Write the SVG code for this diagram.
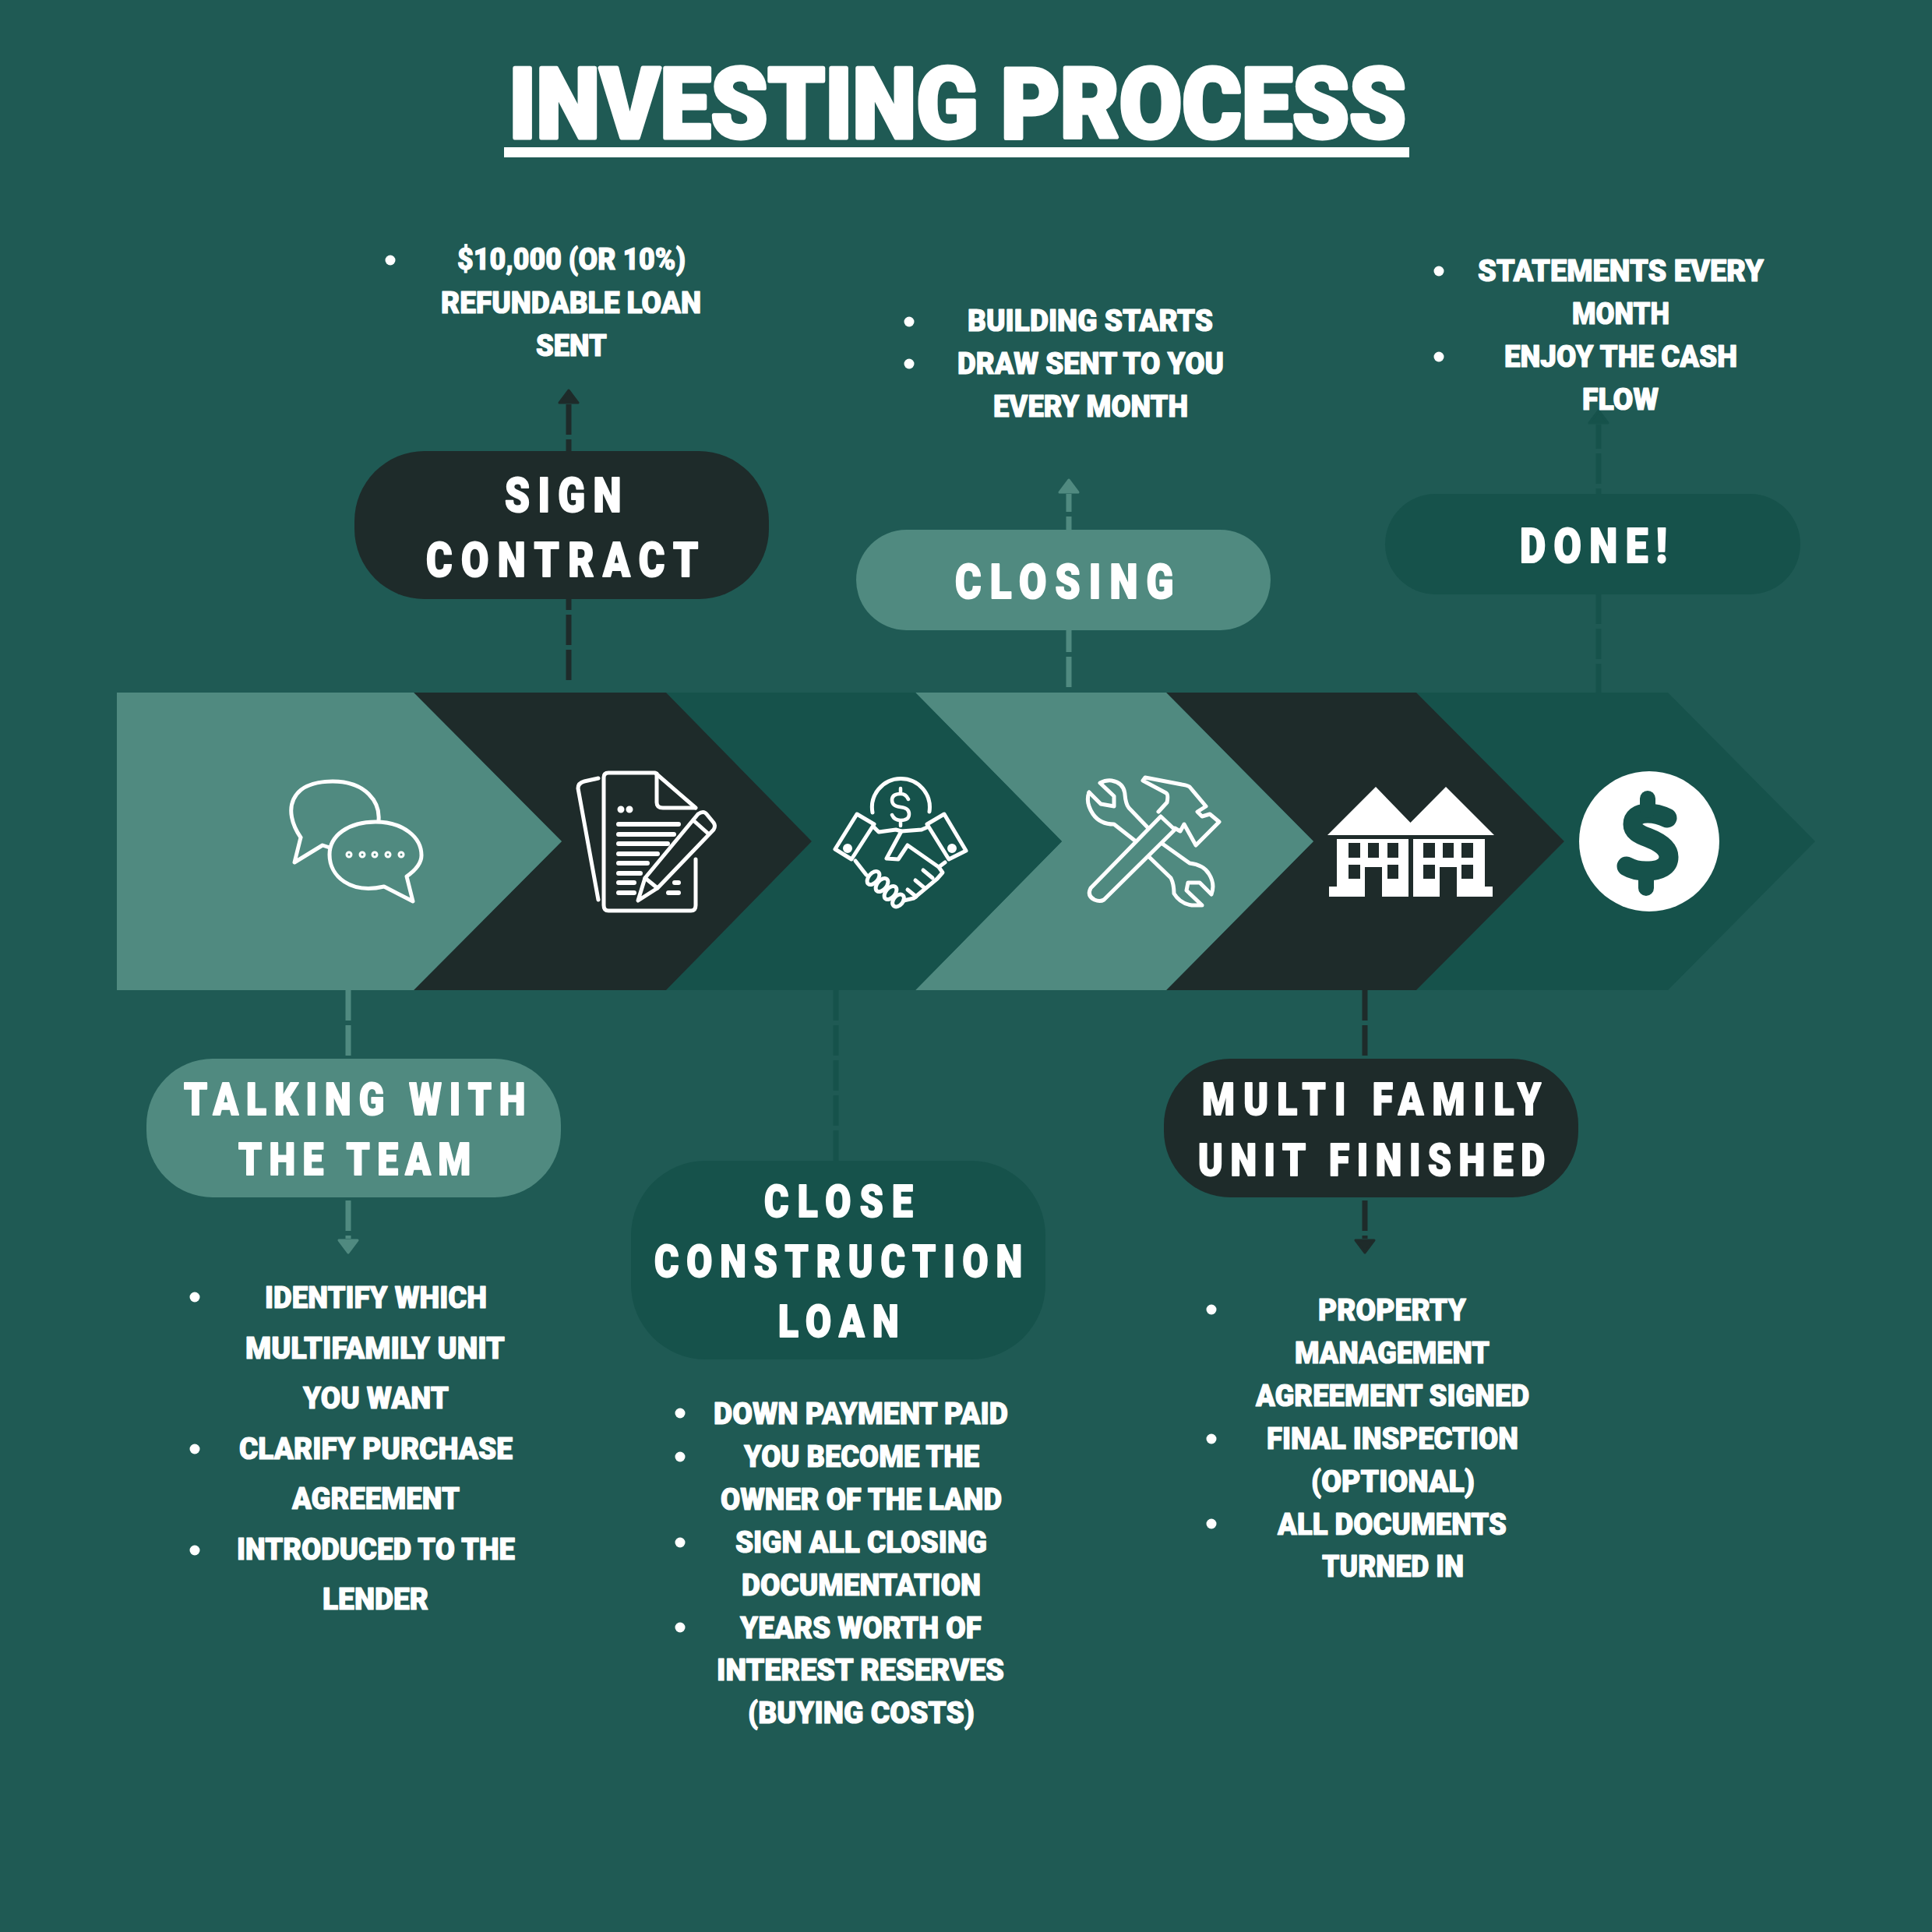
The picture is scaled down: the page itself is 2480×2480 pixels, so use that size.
<svg xmlns="http://www.w3.org/2000/svg" width="2480" height="2480" viewBox="0 0 2480 2480">
<style>
.bg{fill:#1f5a54}.l{fill:#508a80}.d{fill:#1e2b2a}.m{fill:#16524b}
text{font-family:Roboto,"Liberation Sans",sans-serif;font-weight:900;fill:#fff;stroke:#fff;stroke-linejoin:round}
.t{font-size:126px;stroke-width:5px}
.p{font-size:61px;stroke-width:2px}.q{font-size:57px;stroke-width:2px}
.b{font-size:39.500px;stroke-width:1.200px}
.bu{fill:#fff}
.c{fill:none;stroke-width:7;stroke-dasharray:39 6}
.cl{stroke:#508a80}.cd{stroke:#1e2b2a}.cm{stroke:#16524b}
.i{fill:none;stroke:#fff;stroke-width:5;stroke-linejoin:round;stroke-linecap:round}
.w{fill:#fff}
</style>
<defs>
<marker id="al" markerUnits="userSpaceOnUse" markerWidth="28" markerHeight="30" viewBox="0 0 28 30" refX="0" refY="15" orient="auto"><path d="M2 3L18 15L2 27Z" fill="#508a80" stroke="#508a80" stroke-width="3" stroke-linejoin="round"/></marker>
<marker id="ad" markerUnits="userSpaceOnUse" markerWidth="28" markerHeight="30" viewBox="0 0 28 30" refX="0" refY="15" orient="auto"><path d="M2 3L18 15L2 27Z" fill="#1e2b2a" stroke="#1e2b2a" stroke-width="3" stroke-linejoin="round"/></marker>
<marker id="am" markerUnits="userSpaceOnUse" markerWidth="28" markerHeight="30" viewBox="0 0 28 30" refX="0" refY="15" orient="auto"><path d="M2 3L18 15L2 27Z" fill="#16524b" stroke="#16524b" stroke-width="3" stroke-linejoin="round"/></marker>
</defs>
<rect class="bg" width="2480" height="2480"/>
<g id="title">
<text class="t" x="653" y="177" textLength="1152" lengthAdjust="spacingAndGlyphs">INVESTING PROCESS</text>
<rect class="w" x="647" y="189" width="1162" height="13"/>
</g>
<g id="connectors">
<path class="c cd" d="M730 873V519" marker-end="url(#ad)"/>
<path class="c cl" d="M1372 882V634" marker-end="url(#al)"/>
<path class="c cm" d="M2052 891V545" marker-end="url(#am)"/>
<path class="c cl" d="M447 1271V1590" marker-end="url(#al)"/>
<path class="c cm" d="M1073 1271V1490"/>
<path class="c cd" d="M1752 1271V1590" marker-end="url(#ad)"/>
</g>
<g id="band">
<path class="m" d="M1818 889H2141L2330 1080L2141 1271H1818L2008 1080Z"/>
<path class="d" d="M1497 889H1818L2008 1080L1818 1271H1497L1686 1080Z"/>
<path class="l" d="M1175 889H1497L1686 1080L1497 1271H1175L1363 1080Z"/>
<path class="m" d="M855 889H1175L1363 1080L1175 1271H855L1042 1080Z"/>
<path class="d" d="M531 889H855L1042 1080L855 1271H531L721 1080Z"/>
<path class="l" d="M150 889H531L721 1080L531 1271H150Z"/>
</g>
<g id="icon-chat" class="i">
<path d="M386 1075C362 1040 372 1003 427 1003C470 1003 488 1030 486 1053M386 1075L378 1107L414 1085L423 1088"/>
<path d="M493 1138C450 1148 423 1125 423 1097C423 1072 448 1055 482 1055C518 1055 541 1075 541 1098C541 1108 532 1118 522 1125L530 1157Z"/>
<circle cx="448" cy="1097" r="3" stroke-width="3"/><circle cx="465" cy="1097" r="3" stroke-width="3"/><circle cx="481" cy="1097" r="3" stroke-width="3"/><circle cx="498" cy="1097" r="3" stroke-width="3"/><circle cx="515" cy="1097" r="3" stroke-width="3"/>
</g>
<g id="icon-document" class="i">
<path d="M893 1103V1162Q893 1169 887 1169H781Q775 1169 775 1162V998Q775 992 781 992H841L893 1037"/>
<path d="M843 993V1030Q843 1037 851 1037H892"/>
<path d="M768 999L750 1003Q742 1005 742 1012L768 1155"/>
<path stroke-width="6" d="M794 1058H871M794 1071H865M794 1083H857M794 1096H844M794 1108H831M794 1121H822M794 1133H814M794 1146H814M858 1146H871M866 1133H871"/>
<circle class="w" cx="797" cy="1039" r="2"/><circle class="w" cx="808" cy="1039" r="2"/>
<path fill="#1e2b2a" d="M819 1156L828 1127L896 1045Q903 1040 907 1045L916 1056Q919 1060 916 1065L844 1140Z"/>
<path d="M828 1127L844 1140M890 1053L909 1070"/>
</g>
<g id="icon-handshake" class="i">
<path d="M1120 1043A37 37 0 1 1 1193 1042"/>
<path stroke-width="4.500" d="M1166 1026Q1163 1019 1156 1019Q1145 1019 1145 1027Q1145 1035 1156 1036Q1167 1037 1167 1045Q1167 1053 1156 1053Q1148 1053 1145 1046M1156 1012V1019M1156 1053V1060"/>
<path d="M1100 1045L1122 1058L1093 1103L1072 1090Z"/><circle class="w" cx="1088" cy="1089" r="3.500"/>
<path d="M1212 1045L1190 1058L1218 1103L1240 1092Z"/><circle class="w" cx="1222" cy="1089" r="3.500"/>
<path d="M1122 1062L1128 1068L1150 1065L1157 1067L1183 1065L1190 1062"/>
<path d="M1157 1067L1138 1102L1153 1103L1165 1085L1205 1113L1210 1120L1203 1128L1173 1153L1160 1156"/>
<path d="M1098 1105L1112 1123M1205 1113L1213 1107M1185 1117L1197 1127M1175 1130L1187 1140M1165 1142L1176 1151"/>
<ellipse cx="1121" cy="1127" rx="10" ry="6" transform="rotate(-50 1121 1127)"/>
<ellipse cx="1132" cy="1136" rx="10" ry="6" transform="rotate(-50 1132 1136)"/>
<ellipse cx="1143" cy="1146" rx="10" ry="6" transform="rotate(-50 1143 1146)"/>
<ellipse cx="1153" cy="1156" rx="9" ry="6" transform="rotate(-50 1153 1156)"/>
</g>
<g id="icon-tools" class="i">
<path d="M1398 1017Q1393 1030 1403 1045Q1412 1058 1430 1058L1458 1080"/>
<path d="M1398 1017L1413 1032L1430 1035V1022L1412 1005Q1420 1001 1427 1002Q1443 1005 1444 1020Q1445 1032 1449 1037L1473 1062"/>
<path d="M1475 1100L1503 1127Q1507 1135 1507 1147Q1515 1160 1530 1162L1543 1162L1523 1143L1525 1133H1540L1555 1148Q1560 1135 1552 1122Q1545 1110 1527 1108L1492 1083"/>
<path d="M1490 1048L1400 1140Q1395 1150 1405 1155Q1412 1158 1417 1155L1508 1065Z"/>
<path d="M1487 1042L1498 1030Q1500 1020 1497 1018L1467 1002L1470 998L1517 1007Q1524 1008 1527 1010L1548 1035L1537 1042L1543 1048L1553 1045L1565 1055L1535 1085L1520 1058L1515 1067L1508 1063"/>
</g>
<g id="icon-houses">
<path class="w" d="M1704 1072L1766 1010L1810.500 1056L1856 1010L1918 1072Z"/>
<path class="w" d="M1716 1077H1808V1151H1706V1138H1716Z"/>
<path class="w" d="M1814 1077H1906V1138H1916V1151H1814Z"/>
<path class="d" d="M1752 1113H1774V1151H1752ZM1848 1113H1870V1151H1848Z"/>
<path class="d" d="M1731 1082h15v19h-15zM1756 1082h14v19h-14zM1781 1082h14v19h-14zM1827 1082h15v19h-15zM1852 1082h14v19h-14zM1876 1082h15v19h-15zM1731 1110h15v18h-15zM1781 1110h14v18h-14zM1827 1110h15v18h-15zM1876 1110h15v18h-15z"/>
</g>
<g id="icon-dollar">
<circle class="w" cx="2117" cy="1080" r="90"/>
<path fill="none" stroke="#16524b" stroke-width="25" stroke-linecap="round" d="M2140 1050Q2128 1044 2115 1044C2102 1044 2096 1050 2096 1058C2096 1067 2104 1071 2115 1075C2128 1080 2142 1088 2142 1100C2142 1112 2131 1118 2113 1118Q2098 1118 2088 1112"/>
<path fill="none" stroke="#16524b" stroke-width="20" stroke-linecap="round" d="M2115 1025V1040M2113 1122V1140"/>
</g>
<g id="node-sign">
<rect class="d" x="455" y="579" width="532" height="190" rx="90"/>
<text class="p" transform="translate(648 657) scale(.84 1)" textLength="178">SIGN</text>
<text class="p" transform="translate(547 740) scale(.84 1)" textLength="416">CONTRACT</text>
</g>
<g id="node-closing">
<rect class="l" x="1099" y="680" width="532" height="129" rx="64.500"/>
<text class="p" transform="translate(1226 768) scale(.84 1)" textLength="334">CLOSING</text>
</g>
<g id="node-done">
<rect class="m" x="1778" y="634" width="533" height="129" rx="64.500"/>
<text class="p" transform="translate(1951 722) scale(.84 1)" textLength="225">DONE!</text>
</g>
<g id="node-talking">
<rect class="l" x="188" y="1359" width="532" height="178" rx="85"/>
<text class="q" transform="translate(236 1431) scale(.84 1)" textLength="522">TALKING WITH</text>
<text class="q" transform="translate(306 1508) scale(.84 1)" textLength="355">THE TEAM</text>
</g>
<g id="node-close">
<rect class="m" x="810" y="1490" width="532" height="255" rx="96"/>
<text class="q" transform="translate(981 1562) scale(.84 1)" textLength="227">CLOSE</text>
<text class="q" transform="translate(840 1639) scale(.84 1)" textLength="562">CONSTRUCTION</text>
<text class="q" transform="translate(999 1716) scale(.84 1)" textLength="184">LOAN</text>
</g>
<g id="node-multi">
<rect class="d" x="1494" y="1359" width="532" height="178" rx="85"/>
<text class="q" transform="translate(1543 1431) scale(.84 1)" textLength="518">MULTI FAMILY</text>
<text class="q" transform="translate(1538 1509) scale(.84 1)" textLength="530">UNIT FINISHED</text>
</g>
<g id="list-sign">
<circle class="bu" cx="501" cy="334" r="6.500"/>
<text class="b" x="587" y="346" textLength="293" lengthAdjust="spacingAndGlyphs">$10,000 (OR 10%)</text>
<text class="b" x="566" y="402" textLength="334" lengthAdjust="spacingAndGlyphs">REFUNDABLE LOAN</text>
<text class="b" x="688" y="457" textLength="91" lengthAdjust="spacingAndGlyphs">SENT</text>
</g>
<g id="list-closing">
<circle class="bu" cx="1167" cy="413" r="6.500"/><circle class="bu" cx="1167" cy="467" r="6.500"/>
<text class="b" x="1242" y="425" textLength="315" lengthAdjust="spacingAndGlyphs">BUILDING STARTS</text>
<text class="b" x="1229" y="480" textLength="342" lengthAdjust="spacingAndGlyphs">DRAW SENT TO YOU</text>
<text class="b" x="1275" y="535" textLength="250" lengthAdjust="spacingAndGlyphs">EVERY MONTH</text>
</g>
<g id="list-done">
<circle class="bu" cx="1847" cy="348" r="6.500"/><circle class="bu" cx="1847" cy="458" r="6.500"/>
<text class="b" x="1897" y="361" textLength="367" lengthAdjust="spacingAndGlyphs">STATEMENTS EVERY</text>
<text class="b" x="2018" y="416" textLength="125" lengthAdjust="spacingAndGlyphs">MONTH</text>
<text class="b" x="1931" y="471" textLength="299" lengthAdjust="spacingAndGlyphs">ENJOY THE CASH</text>
<text class="b" x="2031" y="526" textLength="98" lengthAdjust="spacingAndGlyphs">FLOW</text>
</g>
<g id="list-talking">
<circle class="bu" cx="250" cy="1665" r="6.500"/><circle class="bu" cx="250" cy="1860" r="6.500"/><circle class="bu" cx="250" cy="1990" r="6.500"/>
<text class="b" x="340" y="1679" textLength="285" lengthAdjust="spacingAndGlyphs">IDENTIFY WHICH</text>
<text class="b" x="315" y="1744" textLength="333" lengthAdjust="spacingAndGlyphs">MULTIFAMILY UNIT</text>
<text class="b" x="389" y="1808" textLength="187" lengthAdjust="spacingAndGlyphs">YOU WANT</text>
<text class="b" x="307" y="1873" textLength="351" lengthAdjust="spacingAndGlyphs">CLARIFY PURCHASE</text>
<text class="b" x="375" y="1937" textLength="215" lengthAdjust="spacingAndGlyphs">AGREEMENT</text>
<text class="b" x="304" y="2002" textLength="357" lengthAdjust="spacingAndGlyphs">INTRODUCED TO THE</text>
<text class="b" x="414" y="2066" textLength="136" lengthAdjust="spacingAndGlyphs">LENDER</text>
</g>
<g id="list-close">
<circle class="bu" cx="873" cy="1814" r="6.500"/><circle class="bu" cx="873" cy="1870" r="6.500"/><circle class="bu" cx="873" cy="1980" r="6.500"/><circle class="bu" cx="873" cy="2089" r="6.500"/>
<text class="b" x="916" y="1828" textLength="378" lengthAdjust="spacingAndGlyphs">DOWN PAYMENT PAID</text>
<text class="b" x="955" y="1883" textLength="302" lengthAdjust="spacingAndGlyphs">YOU BECOME THE</text>
<text class="b" x="925" y="1938" textLength="361" lengthAdjust="spacingAndGlyphs">OWNER OF THE LAND</text>
<text class="b" x="944" y="1993" textLength="323" lengthAdjust="spacingAndGlyphs">SIGN ALL CLOSING</text>
<text class="b" x="952" y="2048" textLength="307" lengthAdjust="spacingAndGlyphs">DOCUMENTATION</text>
<text class="b" x="950" y="2103" textLength="310" lengthAdjust="spacingAndGlyphs">YEARS WORTH OF</text>
<text class="b" x="920" y="2157" textLength="369" lengthAdjust="spacingAndGlyphs">INTEREST RESERVES</text>
<text class="b" x="960" y="2212" textLength="291" lengthAdjust="spacingAndGlyphs">(BUYING COSTS)</text>
</g>
<g id="list-multi">
<circle class="bu" cx="1555" cy="1681" r="6.500"/><circle class="bu" cx="1555" cy="1847" r="6.500"/><circle class="bu" cx="1555" cy="1956" r="6.500"/>
<text class="b" x="1692" y="1695" textLength="190" lengthAdjust="spacingAndGlyphs">PROPERTY</text>
<text class="b" x="1662" y="1750" textLength="250" lengthAdjust="spacingAndGlyphs">MANAGEMENT</text>
<text class="b" x="1612" y="1805" textLength="351" lengthAdjust="spacingAndGlyphs">AGREEMENT SIGNED</text>
<text class="b" x="1626" y="1860" textLength="323" lengthAdjust="spacingAndGlyphs">FINAL INSPECTION</text>
<text class="b" x="1683" y="1915" textLength="210" lengthAdjust="spacingAndGlyphs">(OPTIONAL)</text>
<text class="b" x="1640" y="1970" textLength="294" lengthAdjust="spacingAndGlyphs">ALL DOCUMENTS</text>
<text class="b" x="1697" y="2024" textLength="182" lengthAdjust="spacingAndGlyphs">TURNED IN</text>
</g>
</svg>
